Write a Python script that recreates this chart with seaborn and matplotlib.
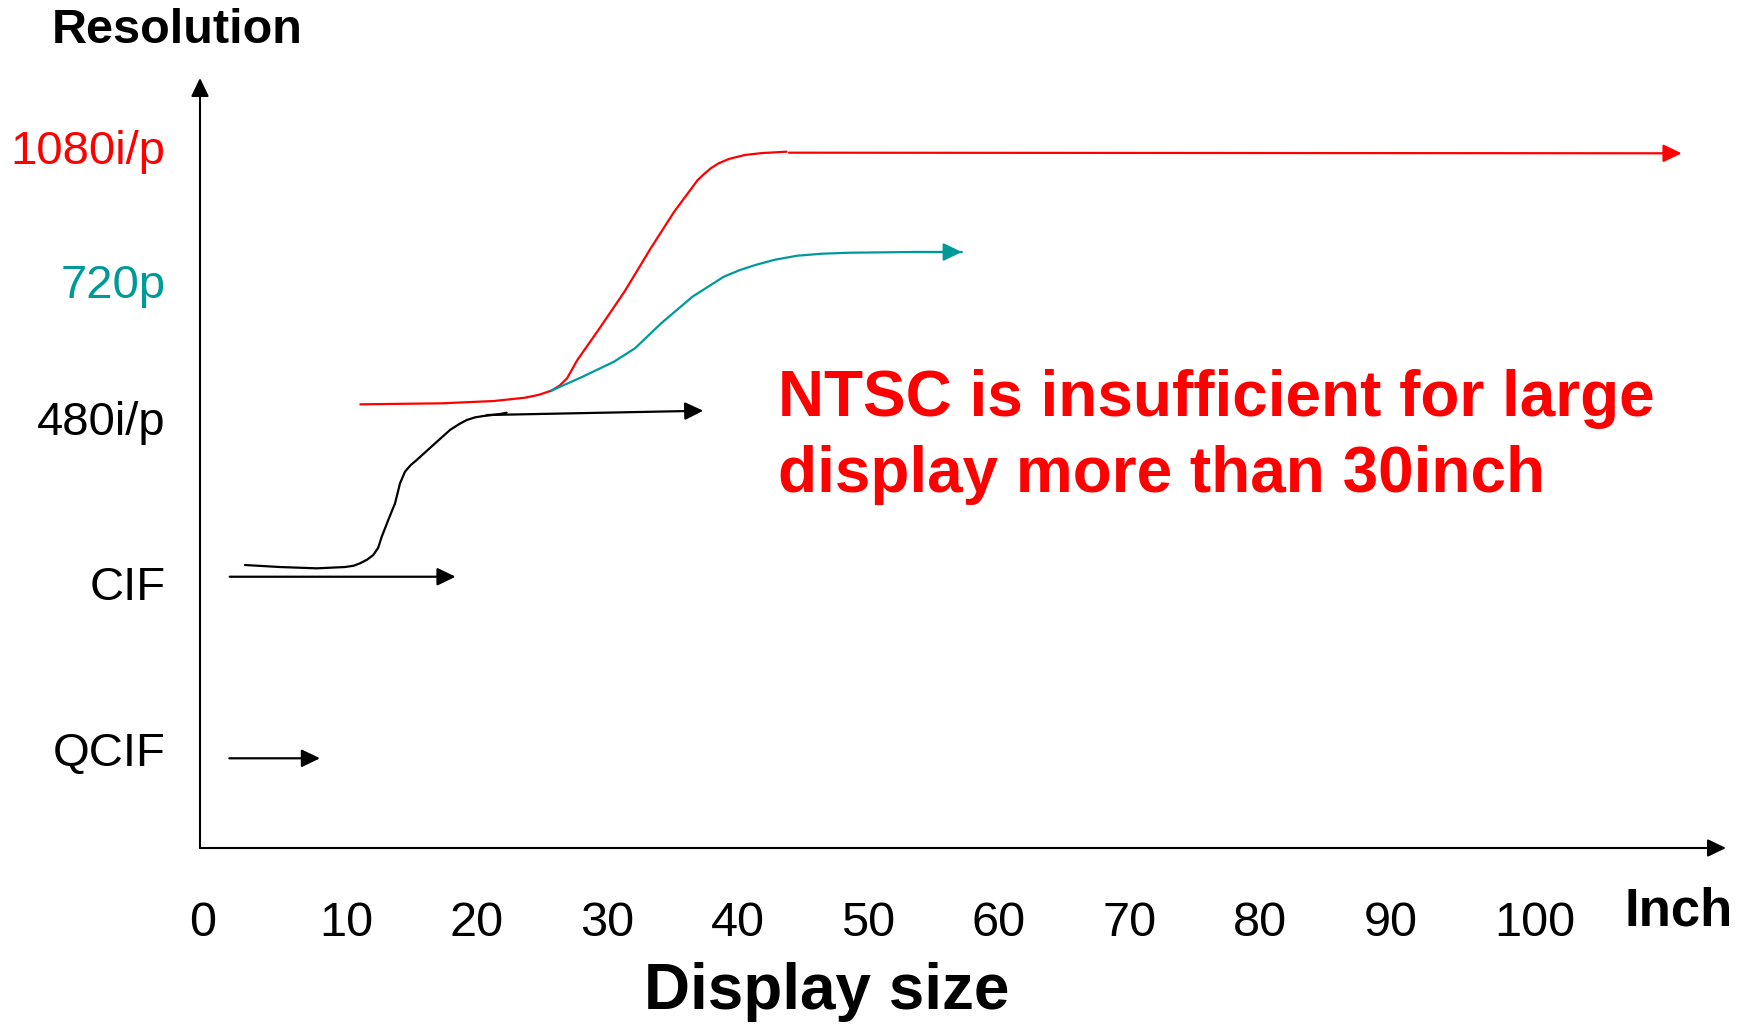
import matplotlib
matplotlib.use("Agg")
import matplotlib.pyplot as plt
import pandas as pd
import seaborn as sns

# ---- data -----------------------------------------------------------------
# Resolution tiers on the vertical axis (relative level, 0-100)
tier_labels = ["QCIF", "CIF", "480i/p", "720p", "1080i/p"]
tier_levels = [12.8, 34.4, 55.8, 73.6, 91.0]
tier_colors = ["black", "black", "black", "#009999", "#FF0000"]

# Display size ticks (inch)
size_ticks = [0, 10, 20, 30, 40, 50, 60, 70, 80, 90, 100]

# CIF -> 480i/p transition curve
sd_x = [4.29, 6.97, 9.79, 11.95, 12.60, 13.10, 13.65, 14.12, 14.50, 14.77,
        15.27, 15.79, 16.17, 16.55, 17.00, 17.45, 18.72, 20.00, 20.70, 21.28,
        21.90, 22.55, 23.83, 24.34]
sd_y = [36.75, 36.49, 36.32, 36.49, 36.65, 36.97, 37.45, 38.05, 39.00, 40.43,
        42.60, 44.77, 47.36, 48.87, 49.75, 50.39, 52.34, 54.29, 55.05, 55.58,
        55.92, 56.10, 56.36, 56.53]

# NTSC -> 1080i/p transition curve
hd1080_x = [13.13, 19.35, 23.36, 25.75, 26.80, 27.76, 28.40, 28.97, 29.76,
            31.37, 33.37, 35.38, 37.18, 38.98, 39.45, 39.98, 40.58, 41.40,
            42.59, 43.90, 45.79]
hd1080_y = [57.62, 57.75, 58.05, 58.48, 58.85, 59.39, 60.05, 61.00, 63.38,
            67.27, 72.25, 77.88, 82.64, 86.75, 87.50, 88.27, 88.92, 89.50,
            90.00, 90.25, 90.43]

# branch towards 720p
hd720_x = [27.76, 30.17, 32.57, 34.18, 36.18, 38.58, 40.99, 42.20, 43.39,
           44.90, 46.60, 48.50, 50.61, 55.41, 59.22]
hd720_y = [59.39, 61.21, 63.16, 64.90, 68.14, 71.60, 74.20, 75.05, 75.71,
           76.40, 76.92, 77.18, 77.31, 77.40, 77.40]

# straight arrows: format range over display size
arrow_x0 = [3.09, 3.12, 22.81, 45.98]
arrow_x1 = [10.04, 20.43, 39.41, 114.38]
arrow_y0 = [11.65, 35.23, 56.23, 90.30]
arrow_y1 = [11.65, 35.23, 56.79, 90.22]
arrow_colors = ["black", "black", "black", "#FF0000"]

# ---- style ----------------------------------------------------------------
sns.set_theme(style="white")
plt.rcParams["font.family"] = ["Liberation Sans", "DejaVu Sans"]

W, H = 1752, 1024
fig = plt.figure(figsize=(W / 100, H / 100), dpi=100)
px_per_inch = 13.05
ax = fig.add_axes([189 / W, 176 / H, (1726 - 189) / W, 770 / H])
ax.set_xlim(0, (1726 - 189) / px_per_inch)
ax.set_ylim(0, 100)
for sp in ax.spines.values():
    sp.set_visible(False)
ax.grid(False)

axis_x = (200 - 189) / px_per_inch
head = "-|>,head_length=0.56,head_width=0.27"

# axes drawn as arrows
ax.annotate("", xy=(ax.get_xlim()[1], 0), xytext=(axis_x, 0),
            arrowprops=dict(arrowstyle=head, color="black", lw=1.5,
                            mutation_scale=20, shrinkA=0, shrinkB=0),
            annotation_clip=False)
ax.annotate("", xy=(axis_x, 100), xytext=(axis_x, 0),
            arrowprops=dict(arrowstyle=head, color="black", lw=1.5,
                            mutation_scale=20, shrinkA=0, shrinkB=0),
            annotation_clip=False)

# transition curves
curves = [
    (sd_x, sd_y, "black"),
    (hd1080_x, hd1080_y, "#FF0000"),
    (hd720_x, hd720_y, "#009999"),
]
for xs, ys, col in curves:
    df = pd.DataFrame({"size": xs, "level": ys})
    sns.lineplot(data=df, x="size", y="level", ax=ax, color=col, lw=1.6,
                 sort=False, estimator=None)
for line in ax.get_lines():
    line.set_solid_joinstyle("round")
    line.set_solid_capstyle("round")

# arrow head on the 720p branch
ax.annotate("", xy=(hd720_x[-1], hd720_y[-1]), xytext=(hd720_x[-2], hd720_y[-2]),
            arrowprops=dict(arrowstyle=head, color="#009999", lw=1.6,
                            mutation_scale=20, shrinkA=0, shrinkB=0))

# straight format arrows
for x0, x1, y0, y1, col in zip(arrow_x0, arrow_x1, arrow_y0, arrow_y1, arrow_colors):
    ax.annotate("", xy=(x1, y1), xytext=(x0, y0),
                arrowprops=dict(arrowstyle=head, color=col, lw=1.6,
                                mutation_scale=20, shrinkA=0, shrinkB=0))

# ticks
ax.set_xticks(size_ticks, [str(v) for v in size_ticks])
ax.tick_params(axis="x", length=0, pad=38.5, labelsize=35, labelcolor="black")
for lbl in ax.get_xticklabels():
    lbl.set_horizontalalignment("left")

ax.set_yticks(tier_levels, tier_labels)
ax.tick_params(axis="y", length=0, pad=16.8, labelsize=34)
for lbl, col in zip(ax.get_yticklabels(), tier_colors):
    lbl.set_color(col)

ax.set_xlabel("")
ax.set_ylabel("")

# titles and note
fig.text(51.5 / W, 1 - 43.3 / H, "Resolution", fontsize=35, fontweight="bold",
         ha="left", va="baseline", color="black")
fig.text(1625 / W, 1 - 925 / H, "Inch", fontsize=38, fontweight="bold",
         ha="left", va="baseline", color="black")
fig.text(826.5 / W, 1 - 1009 / H, "Display size", fontsize=46, fontweight="bold",
         ha="center", va="baseline", color="black")
fig.text(778 / W, 1 - 415.7 / H, "NTSC is insufficient for large", fontsize=46,
         fontweight="bold", ha="left", va="baseline", color="#FF0000")
fig.text(778 / W, 1 - 491.7 / H, "display more than 30inch", fontsize=46,
         fontweight="bold", ha="left", va="baseline", color="#FF0000")

fig.savefig("out.png", dpi=100, facecolor="white")
